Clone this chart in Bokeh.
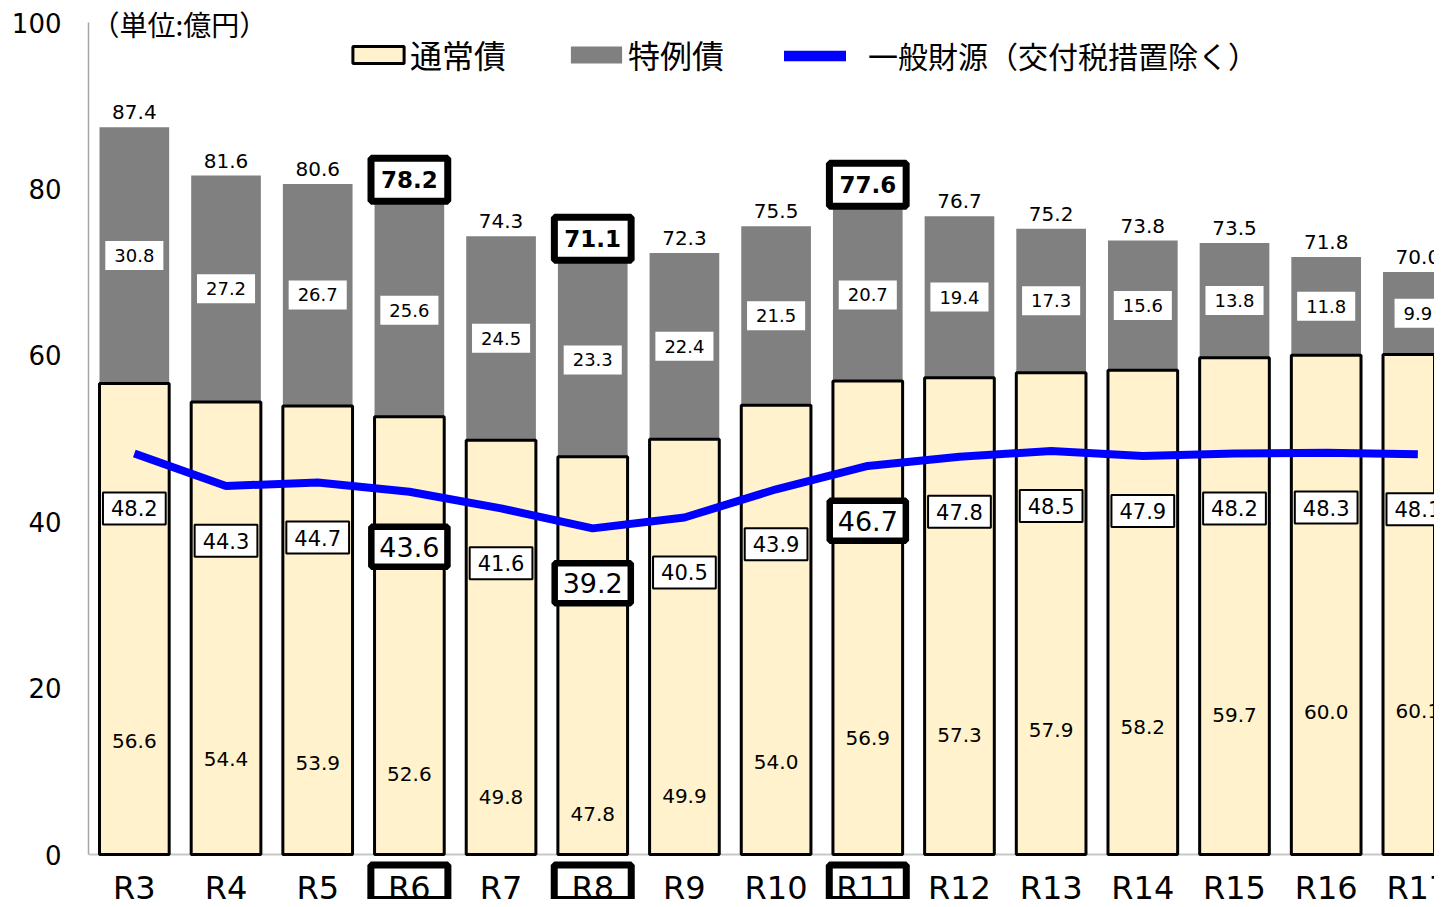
import numpy as np
from bokeh.plotting import figure
from bokeh.models import Range1d, FixedTicker, ColumnDataSource, Legend, LegendItem, Label, Span
from bokeh.embed import file_html
from bokeh.resources import INLINE
from bokeh.core.properties import value

# ---- data ----
years = ["R3", "R4", "R5", "R6", "R7", "R8", "R9", "R10", "R11", "R12", "R13", "R14", "R15", "R16", "R17"]
normal = [56.6, 54.4, 53.9, 52.6, 49.8, 47.8, 49.9, 54.0, 56.9, 57.3, 57.9, 58.2, 59.7, 60.0, 60.1]
special = [30.8, 27.2, 26.7, 25.6, 24.5, 23.3, 22.4, 21.5, 20.7, 19.4, 17.3, 15.6, 13.8, 11.8, 9.9]
general = [48.2, 44.3, 44.7, 43.6, 41.6, 39.2, 40.5, 43.9, 46.7, 47.8, 48.5, 47.9, 48.2, 48.3, 48.1]
highlight = ["R6", "R8", "R11"]
y_ticks = [0, 20, 40, 60, 80, 100]

NUM = "DejaVu Sans"
JP = "Noto Sans CJK JP"
NUM_FONT = value(NUM)

PX_PER_UNIT = 8.32   # vertical scale (px per 億円)
PX_PER_CAT = 91.68   # horizontal scale (px per category)

xs = list(range(len(years)))
total = [round(n + s, 1) for n, s in zip(normal, special)]
hl = [y in highlight for y in years]
not_hl = [not h for h in hl]
all_m = [True] * len(years)

src = ColumnDataSource(dict(x=xs, year=years, normal=normal, special=special,
                            total=total, general=general))

W, H = 1434, 899
LEFT = 88
TOP_GAP = 22  # px between canvas top and the value 100
y_hi = 100 + TOP_GAP / PX_PER_UNIT
y_lo = y_hi - H / PX_PER_UNIT
x_hi = -0.5 + (W - LEFT) / PX_PER_CAT

p = figure(width=W, height=H, output_backend="svg", toolbar_location=None,
           x_range=Range1d(-0.5, x_hi), y_range=Range1d(y_lo, y_hi),
           x_axis_location=None, min_border_left=LEFT, min_border_right=0,
           min_border_top=0, min_border_bottom=0)
p.outline_line_color = None
p.grid.visible = False

ax = p.yaxis[0]
ax.ticker = FixedTicker(ticks=y_ticks)
ax.bounds = (0, 100)
ax.axis_line_color = "#a6a6a6"
ax.axis_line_width = 1.5
ax.major_tick_line_color = None
ax.minor_tick_line_color = None
ax.major_label_text_font = NUM
ax.major_label_text_font_size = "26px"
ax.major_label_text_color = "black"
ax.major_label_standoff = 21

p.add_layout(Span(location=0, dimension="width", line_color="#c8c8c8", line_width=2, level="underlay"))

# bars and line
r_sp = p.vbar(x="x", bottom="normal", top="total", width=0.76, source=src,
              fill_color="#808080", line_color=None)
r_no = p.vbar(x="x", bottom=0, top="normal", width=0.76, source=src,
              fill_color="#FFF2CC", line_color="black", line_width=3)
p.line(x="x", y="general", source=src, line_color="#0000FF", line_width=8)
# legend-only line (no visible data)
r_ln_leg = p.line(x=np.array([0.0, 1.0]), y=np.array([np.nan, np.nan]),
                  line_color="#0000FF", line_width=10.5, line_cap="round")


def sub(mask, **cols):
    return ColumnDataSource({k: [v for v, m in zip(vals, mask) if m] for k, vals in cols.items()})


def labels(mask, centers, vals, fs, **kw):
    s = sub(mask, x=xs, y=centers, t=[f"{v:.1f}" for v in vals])
    p.text(x="x", y="y", text="t", source=s, text_font=NUM_FONT, text_font_size=f"{fs}px",
           text_align="center", text_baseline="alphabetic", text_color="black", **kw)


# totals
labels(not_hl, [t + 1.8 for t in total], total, 20)
labels(hl, [t + 2.9 for t in total], total, 23, text_font_style="bold",
       background_fill_color="white", border_line_color="black", border_line_width=7,
       padding=(10, 13))
# special bonds
labels(all_m, [n + sp / 2 for n, sp in zip(normal, special)], special, 18,
       background_fill_color="white", padding=(9, 8))
# normal bonds
labels(all_m, [n - 42.9 for n in normal], normal, 20)
# general revenue
labels(not_hl, [g - 6.6 for g in general], general, 21,
       background_fill_color="white", border_line_color="black", border_line_width=2,
       padding=(8, 8))
labels(hl, [g - 6.6 for g in general], general, 27,
       background_fill_color="white", border_line_color="black", border_line_width=6.5,
       padding=(8, 10))

# x category labels
LABEL_C = -3.97
s = sub(hl, x=xs)
p.vbar(x="x", top=-1.26, bottom=y_lo - 3, width=0.84, source=s, fill_color="white",
       line_color="black", line_width=7)
s = sub(all_m, x=xs, t=years)
p.text(x="x", y=LABEL_C, text="t", source=s, text_font=NUM_FONT, text_font_size="32px",
       text_align="center", text_baseline="alphabetic", text_color="black")

# legends
LEG_Y = H - 77


def add_leg(label, rend, x, gw, gh, standoff, fs):
    lg = Legend(items=[LegendItem(label=label, renderers=[rend])], location=(x, LEG_Y),
                orientation="horizontal", glyph_width=gw, glyph_height=gh, label_height=gh,
                label_standoff=standoff, padding=0, margin=0, border_line_color=None,
                background_fill_alpha=0, label_text_font=JP,
                label_text_font_size=f"{fs}px", label_text_color="black")
    p.add_layout(lg, "center")


add_leg("通常債", r_no, 258, 64, 21, 0, 32)
add_leg("特例債", r_sp, 476, 64, 21, 0, 32)
add_leg("一般財源（交付税措置除く）", r_ln_leg, 696, 62, 21, 22, 30)

p.add_layout(Label(x=3, y=99.8, x_units="screen", y_units="data", text="（単位:億円）",
                   text_font=JP, text_font_size="28px", text_baseline="middle",
                   text_color="black"))

open("out.html", "w").write(file_html(p, INLINE))
